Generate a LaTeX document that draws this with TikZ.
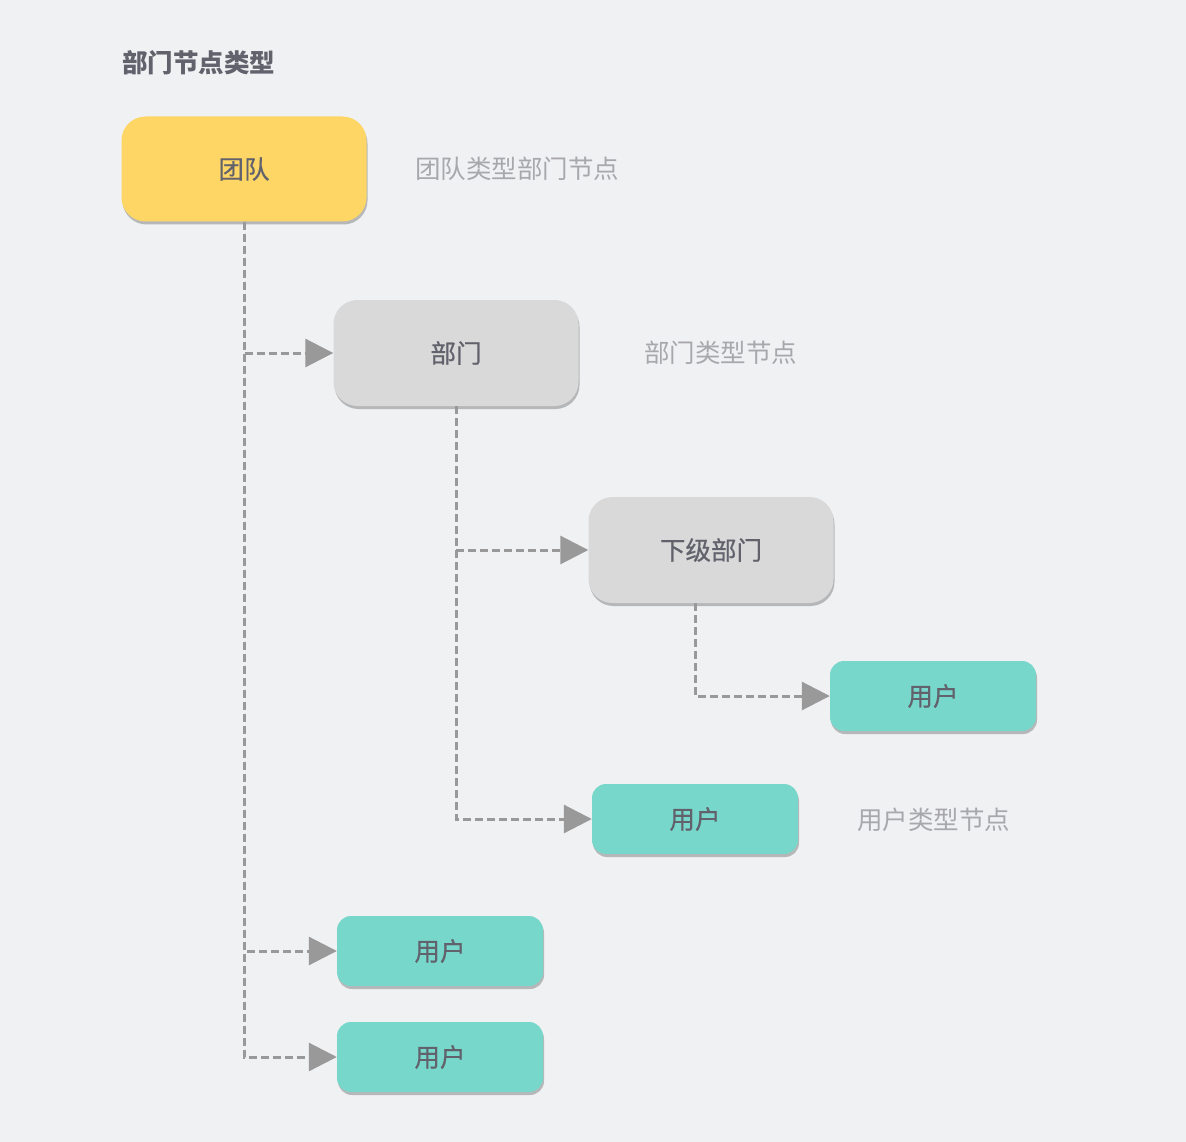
\documentclass[tikz,border=0pt]{standalone}
\usepackage{fontspec}
\newfontfamily\cjk{Noto Sans CJK SC}
\newfontfamily\cjkm[FakeBold=0.6]{Noto Sans CJK SC}
\usetikzlibrary{arrows.meta, shadows}
\definecolor{bgcol}{HTML}{F0F1F3}
\definecolor{teamcol}{HTML}{FDD666}
\definecolor{deptcol}{HTML}{D9D9D9}
\definecolor{usercol}{HTML}{78D7CB}
\definecolor{textcol}{HTML}{62626D}
\definecolor{notecol}{HTML}{A8A8AC}
\definecolor{linkcol}{HTML}{999999}

\begin{document}
\begin{tikzpicture}[x=1pt, y=-1pt,
  box/.style = {rounded corners=24pt, inner sep=0pt, font=\cjkm\fontsize{25.5}{25.5}\selectfont, text=textcol,
    drop shadow={shadow xshift=1pt, shadow yshift=-3pt, opacity=0.35, fill=black!70}},
  teambox/.style = {box, fill=teamcol, minimum width=245pt, minimum height=105pt},
  deptbox/.style = {box, fill=deptcol, minimum width=245pt, minimum height=106pt},
  userbox/.style = {box, fill=usercol, rounded corners=14pt, minimum width=206pt, minimum height=70pt},
  note/.style = {anchor=west, inner sep=0pt, font=\cjk\fontsize{25.5}{25.5}\selectfont, text=notecol},
  link/.style = {draw=linkcol, line width=3pt, dash pattern=on 8pt off 4pt, -{Triangle[length=28pt, width=28pt]}}]

\useasboundingbox[fill=bgcol] (0,0) rectangle (1186,1142);

\node[anchor=west, inner sep=0pt, font=\cjk\bfseries\fontsize{25.5}{25.5}\selectfont, text=textcol] (title) at (122,63) {部门节点类型};

% nodes
\node[teambox] (team) at (244,169) {团队};
\node[deptbox] (dept) at (456,353) {部门};
\node[deptbox] (sub) at (711,550) {下级部门};
\node[userbox] (user1) at (933,696) {用户};
\node[userbox] (user2) at (695,819) {用户};
\node[userbox] (user3) at (440,951) {用户};
\node[userbox] (user4) at (440,1057) {用户};

% notes
\node[note] (teamnote) at (415,169) {团队类型部门节点};
\node[note] (deptnote) at (644,353) {部门类型节点};
\node[note] (usernote) at (857,820) {用户类型节点};

% links
\draw[link] (team.south) |- (user4.west);
\draw[link] (team.south) |- (user3.west);
\draw[link] (team.south) |- (dept.west);
\draw[link] (dept.south) |- (user2.west);
\draw[link] (dept.south) |- (sub.west);
\draw[link] ([xshift=-16pt]sub.south) |- (user1.west);
\end{tikzpicture}
\end{document}
